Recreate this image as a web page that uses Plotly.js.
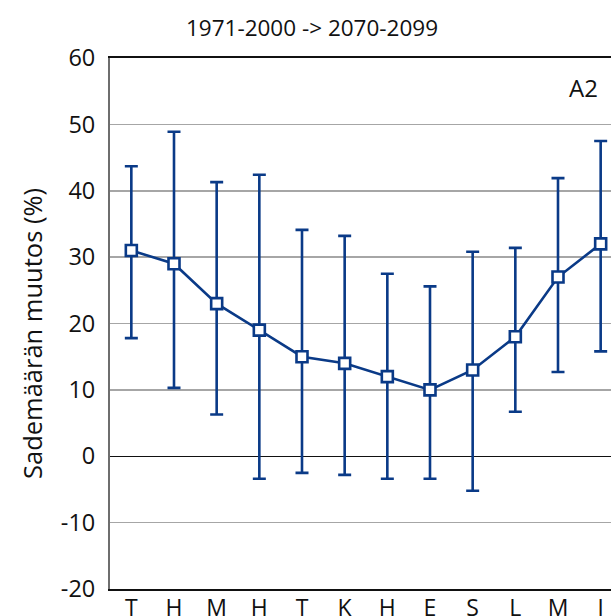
<!DOCTYPE html>
<html>
<head>
<meta charset="utf-8">
<script src="https://cdn.plot.ly/plotly-3.0.1.min.js"></script>
<style>
html, body { margin: 0; padding: 0; overflow: hidden; background: #fff; }
#chart { width: 640px; height: 650px; }
</style>
</head>
<body>
<div id="chart"></div>
<script>
var months = ["T", "H", "M", "H", "T", "K", "H", "E", "S", "L", "M", "J"];
var meanChange = [31, 29, 23, 19, 15, 14, 12, 10, 13, 18, 27, 32];
var upperBound = [43.7, 48.9, 41.3, 42.4, 34.1, 33.2, 27.5, 25.6, 30.8, 31.4, 41.9, 47.5];
var lowerBound = [17.8, 10.3, 6.3, -3.4, -2.5, -2.8, -3.4, -3.4, -5.2, 6.7, 12.7, 15.8];
var yTicks = [-20, -10, 0, 10, 20, 30, 40, 50, 60];
var yTickText = ["-20", "-10", "0", "10", "20", "30", "40", "50", "60"];

var idx = months.map(function (m, i) { return i; });
var errPlus = upperBound.map(function (u, i) { return u - meanChange[i]; });
var errMinus = lowerBound.map(function (l, i) { return meanChange[i] - l; });

var blue = "#0a3a87";
var font = "Open Sans, Noto Sans, sans-serif";

var trace = {
  x: idx,
  y: meanChange,
  type: "scatter",
  mode: "lines+markers",
  line: { color: blue, width: 2.6 },
  marker: { symbol: "square", size: 11, color: "#ffffff", line: { color: blue, width: 2.6 } },
  error_y: {
    type: "data",
    symmetric: false,
    array: errPlus,
    arrayminus: errMinus,
    color: blue,
    thickness: 2.6,
    width: 6.5
  },
  cliponaxis: false,
  hoverinfo: "skip"
};

var layout = {
  width: 640,
  height: 650,
  margin: { l: 110, r: 18, t: 58, b: 61 },
  paper_bgcolor: "#ffffff",
  plot_bgcolor: "#ffffff",
  showlegend: false,
  font: { family: font, color: "#111111", size: 23 },
  title: {
    text: "1971-2000 -> 2070-2099",
    font: { family: font, size: 22.5, color: "#111111" },
    xref: "container", x: 312 / 640, xanchor: "center",
    yref: "container", y: 1 - 28 / 650, yanchor: "middle"
  },
  xaxis: {
    range: [-0.5, 11.5],
    tickmode: "array",
    tickvals: idx,
    ticktext: months,
    showgrid: false,
    zeroline: false,
    showline: true,
    linecolor: "#111111",
    linewidth: 2,
    mirror: true,
    ticks: "",
    ticklabelstandoff: -3,
    tickfont: { family: font, size: 23, color: "#111111" },
    fixedrange: true
  },
  yaxis: {
    range: [-20, 60],
    tickmode: "array",
    tickvals: yTicks,
    ticktext: yTickText,
    showgrid: true,
    gridcolor: "#a6a6a6",
    gridwidth: 1.5,
    zeroline: true,
    zerolinecolor: "#111111",
    zerolinewidth: 1.5,
    showline: true,
    linecolor: "#6e6e6e",
    linewidth: 2,
    ticks: "",
    ticklabelstandoff: 8,
    tickfont: { family: font, size: 23.5, color: "#111111" },
    fixedrange: true
  },
  annotations: [{
    text: "A2",
    xref: "paper", yref: "paper",
    x: (583 - 110) / 512, y: 1 - (87 - 58) / 531,
    xanchor: "center", yanchor: "middle",
    showarrow: false,
    font: { family: font, size: 24, color: "#111111" }
  }, {
    text: "Sademäärän muutos (%)",
    xref: "paper", yref: "paper",
    x: (32 - 110) / 512, y: 1 - (334 - 58) / 531,
    xanchor: "center", yanchor: "middle",
    textangle: -90,
    showarrow: false,
    font: { family: font, size: 25.5, color: "#111111" }
  }]
};

Plotly.newPlot("chart", [trace], layout, { displayModeBar: false, staticPlot: true });
</script>
</body>
</html>
